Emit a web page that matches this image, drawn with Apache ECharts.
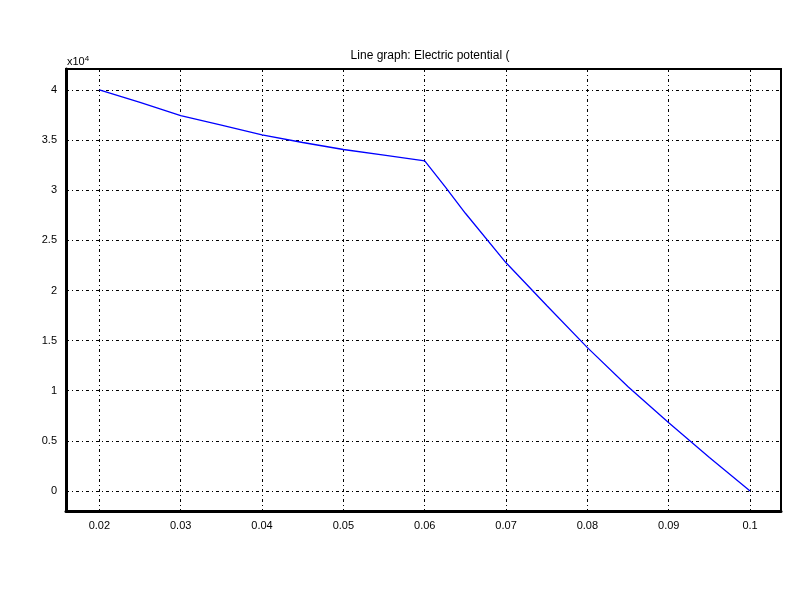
<!DOCTYPE html>
<html>
<head>
<meta charset="utf-8">
<script src="https://cdn.jsdelivr.net/npm/echarts@6/dist/echarts.min.js"></script>
<style>html,body{margin:0;padding:0;background:#fff}#c{width:800px;height:600px}</style>
</head>
<body>
<div id="c"></div>
<script>
const titleText = "Line graph: Electric potential (";
const xValues = [0.02, 0.025, 0.03, 0.035, 0.04, 0.045, 0.05, 0.055, 0.06, 0.0625, 0.065, 0.07, 0.075, 0.08, 0.085, 0.09, 0.095, 0.1];
const potential = [40000, 38760, 37430, 36500, 35530, 34760, 34060, 33500, 32930, 30350, 27700, 22760, 18500, 14300, 10400, 6800, 3350, 0];
const xTickStep = 0.01;
const yTickStep = 5000;

const chart = echarts.init(document.getElementById('c'), null, {renderer: 'canvas'});
const font = 'Liberation Sans, Arial, sans-serif';
chart.setOption({
  animation: false,
  backgroundColor: '#ffffff',
  title: {
    text: titleText, left: 425, top: 45, textAlign: 'center',
    textStyle: {fontSize: 12, fontWeight: 'normal', color: '#000', fontFamily: font}
  },
  graphic: [{
    type: 'text', left: 67, top: 55,
    style: {
      text: 'x10{s|4}', fill: '#000', fontSize: 11, fontFamily: font,
      rich: {s: {fontSize: 8, verticalAlign: 'top', padding: [0,0,6,0], fontFamily: font}}
    }
  }],
  grid: {
    left: 66, right: 19, top: 69, bottom: 89,
    show: true, borderColor: '#000', borderWidth: 2, backgroundColor: '#fff'
  },
  xAxis: {
    type: 'value', min: 0.0159, max: 0.1038,
    minInterval: xTickStep, maxInterval: xTickStep, splitNumber: 9,
    axisLine: {show: true, onZero: false, lineStyle: {color: '#000', width: 3}},
    axisTick: {show: false},
    axisLabel: {
      showMinLabel: false, showMaxLabel: false, margin: 9,
      color: '#000', fontSize: 11, fontFamily: font,
      formatter: v => String(+v.toFixed(4))
    },
    splitLine: {show: true, lineStyle: {color: '#000', width: 1, type: [3, 3, 1, 3]}}
  },
  yAxis: {
    type: 'value', min: -1995, max: 42090,
    minInterval: yTickStep, maxInterval: yTickStep, splitNumber: 9,
    axisLine: {show: true, onZero: false, lineStyle: {color: '#000', width: 3}},
    axisTick: {show: false},
    axisLabel: {
      showMinLabel: false, showMaxLabel: false, margin: 9,
      color: '#000', fontSize: 11, fontFamily: font,
      formatter: v => String(+(v / 10000).toFixed(2))
    },
    splitLine: {show: true, lineStyle: {color: '#000', width: 1, type: [3, 3, 1, 3]}}
  },
  series: [{
    type: 'line',
    data: xValues.map((x, i) => [x, potential[i]]),
    showSymbol: false, symbol: 'none',
    lineStyle: {color: '#0000ff', width: 1.3},
    itemStyle: {color: '#0000ff'}
  }]
});
</script>
</body>
</html>
